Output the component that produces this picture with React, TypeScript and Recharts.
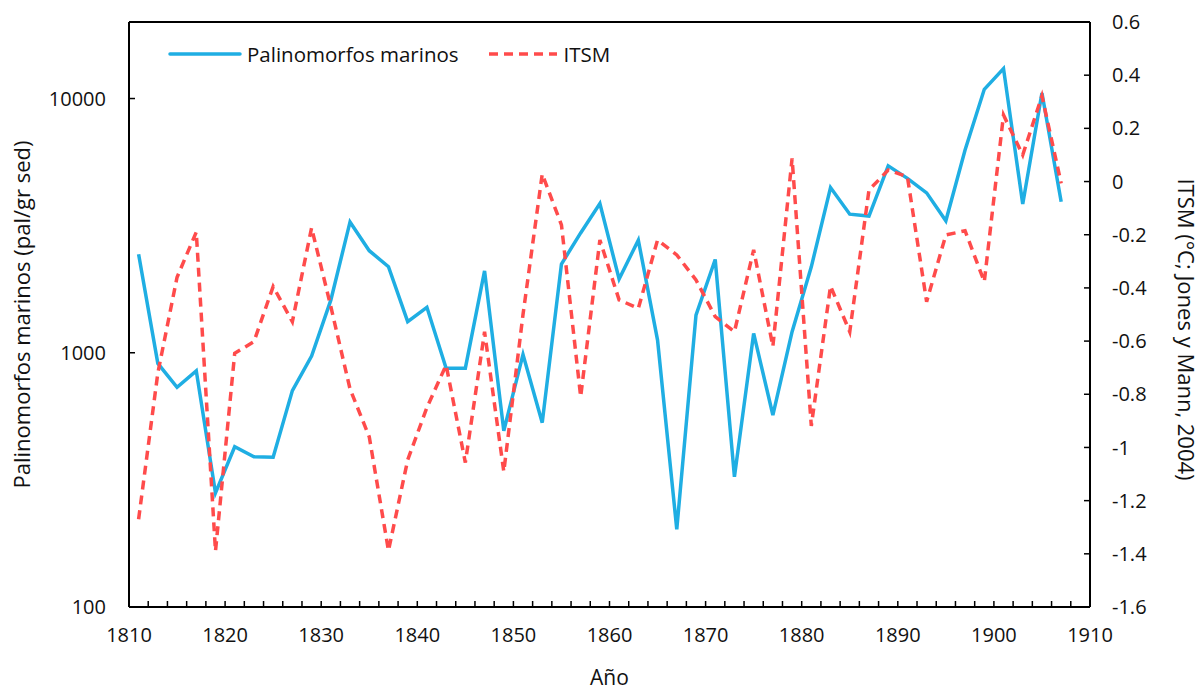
import { ComposedChart, Line, XAxis, YAxis, ReferenceLine } from 'recharts';

const years = [
  1811, 1813, 1815, 1817, 1819, 1821, 1823, 1825, 1827, 1829,
  1831, 1833, 1835, 1837, 1839, 1841, 1843, 1845, 1847, 1849,
  1851, 1853, 1855, 1857, 1859, 1861, 1863, 1865, 1867, 1869,
  1871, 1873, 1875, 1877, 1879, 1881, 1883, 1885, 1887, 1889,
  1891, 1893, 1895, 1897, 1899, 1901, 1903, 1905, 1907,
];

// pal/gr sed
const palinomorfos = [
  2440, 908, 731, 849, 281, 427, 390, 388, 710, 970,
  1610, 3270, 2520, 2180, 1325, 1510, 869, 870, 2100, 493,
  985, 531, 2234, 2960, 3865, 1950, 2774, 1122, 202, 1406,
  2328, 325, 1191, 569, 1211, 2178, 4467, 3508, 3450, 5433,
  4853, 4256, 3304, 6270, 10870, 13120, 3846, 10520, 3926,
];

// °C, Jones y Mann 2004
const itsm = [
  -1.27, -0.72, -0.36, -0.19, -1.39, -0.646, -0.602, -0.395, -0.527, -0.174,
  -0.47, -0.78, -0.96, -1.388, -1.047, -0.85, -0.69, -1.057, -0.565, -1.091,
  -0.5, 0.028, -0.163, -0.809, -0.22, -0.445, -0.477, -0.22, -0.276, -0.37,
  -0.508, -0.565, -0.257, -0.62, 0.087, -0.919, -0.393, -0.565, -0.032, 0.043,
  0.018, -0.452, -0.201, -0.185, -0.377, 0.25, 0.1, 0.322, -0.007,
];

const xTicks = Array.from({ length: 51 }, (_, i) => 1810 + i * 2);
const leftTicks = [100, 1000, 10000];
const rightTicks = [0.6, 0.4, 0.2, 0, -0.2, -0.4, -0.6, -0.8, -1, -1.2, -1.4, -1.6];

const BLUE = '#1FAEE3';
const RED = '#FF4B4B';
const FONT = '"Open Sans", Lato, sans-serif';

const data = years.map((year, i) => ({ year, pal: palinomorfos[i], itsm: itsm[i] }));

function LegendBox() {
  return (
    <div
      style={{
        position: 'absolute',
        left: 165,
        top: 39,
        display: 'flex',
        alignItems: 'center',
        fontFamily: FONT,
        fontSize: 20.5,
        lineHeight: '30px',
        color: '#111',
        whiteSpace: 'nowrap',
      }}
    >
      <svg width={80} height={10}>
        <line x1={5} y1={5} x2={75} y2={5} stroke={BLUE} strokeWidth={3.5} strokeLinecap="round" />
      </svg>
      <span style={{ marginLeft: 2 }}>Palinomorfos marinos</span>
      <svg width={76} height={10} style={{ marginLeft: 28 }}>
        <line x1={2} y1={5} x2={70} y2={5} stroke={RED} strokeWidth={3.5} strokeDasharray="9 6" />
      </svg>
      <span style={{ marginLeft: 1 }}>ITSM</span>
    </div>
  );
}

export default function App() {
  const tickStyle = { fill: '#111', fontSize: 20, fontFamily: FONT };
  return (
    <div style={{ position: 'absolute', left: 0, top: 0, width: 1202, height: 694, background: '#fff' }}>
      <ComposedChart width={1202} height={694} data={data} margin={{ top: 22, right: 0, bottom: 0, left: 0 }}>
        <XAxis
          dataKey="year"
          type="number"
          domain={[1810, 1910]}
          ticks={xTicks}
          interval={0}
          tickFormatter={(v: number) => (v % 10 === 0 ? String(v) : '')}
          height={87}
          tickSize={-6}
          tickMargin={27}
          tick={tickStyle}
          axisLine={{ stroke: '#000', strokeWidth: 2 }}
          tickLine={{ stroke: '#000', strokeWidth: 1.5 }}
          label={{ value: 'Año', position: 'insideBottom', offset: 9, fill: '#111', fontSize: 21, fontFamily: FONT }}
        />
        <YAxis
          yAxisId="left"
          scale="log"
          domain={[100, 20000]}
          ticks={leftTicks}
          allowDataOverflow
          width={129}
          tickSize={-6}
          tickMargin={29}
          tick={tickStyle}
          axisLine={{ stroke: '#000', strokeWidth: 2 }}
          tickLine={{ stroke: '#000', strokeWidth: 1.5 }}
          label={{
            value: 'Palinomorfos marinos (pal/gr sed)',
            angle: -90,
            position: 'center',
            dx: -42,
            fill: '#111',
            fontSize: 22,
            fontFamily: FONT,
          }}
        />
        <YAxis
          yAxisId="right"
          orientation="right"
          domain={[-1.6, 0.6]}
          ticks={rightTicks}
          interval={0}
          allowDataOverflow
          width={112}
          tickSize={-6}
          tickMargin={28}
          tick={tickStyle}
          axisLine={{ stroke: '#000', strokeWidth: 2 }}
          tickLine={{ stroke: '#000', strokeWidth: 1.5 }}
          label={{
            value: 'ITSM (°C; Jones y Mann, 2004)',
            angle: 90,
            position: 'center',
            dx: 40,
            dy: 15,
            fill: '#111',
            fontSize: 22,
            fontFamily: FONT,
          }}
        />
        <ReferenceLine yAxisId="right" y={0.6} stroke="#000" strokeWidth={2} />
        <Line
          yAxisId="left"
          type="linear"
          dataKey="pal"
          name="Palinomorfos marinos"
          stroke={BLUE}
          strokeWidth={3.5}
          strokeLinejoin="miter"
          dot={false}
          isAnimationActive={false}
        />
        <Line
          yAxisId="right"
          type="linear"
          dataKey="itsm"
          name="ITSM"
          stroke={RED}
          strokeWidth={3.5}
          strokeDasharray="9 6"
          dot={false}
          isAnimationActive={false}
        />
      </ComposedChart>
      <LegendBox />
    </div>
  );
}
